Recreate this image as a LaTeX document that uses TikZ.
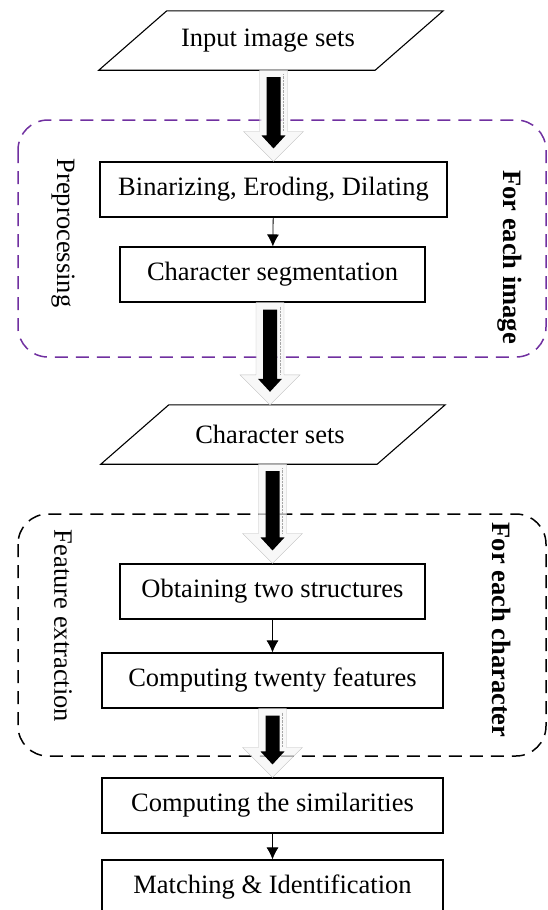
\documentclass[tikz,border=0pt]{standalone}
\usepackage{fontspec}
\setmainfont{Liberation Serif}
\usetikzlibrary{calc,arrows.meta}
\definecolor{loopviolet}{RGB}{112,48,160}

\newcommand{\fatarrow}[2]{%
    \coordinate (top) at (#2.north |- #1.south);
    \filldraw[draw=gray!50,fill=gray!8,fill opacity=0.7] ($(top)+(-14,0)$)--($(#2.north)+(-14,30)$)--($(#2.north)+(-30,30)$)--(#2.north)--($(#2.north)+(30,30)$)--($(#2.north)+(14,30)$)--($(top)+(14,0)$)--cycle;
    \draw[gray!70,densely dotted] ($(top)+(10,-4)$)--($(#2.north)+(10,30)$);
    \fill ($(top)+(-7,-7)$)--($(#2.north)+(-7,26)$)--($(#2.north)+(-12,26)$)--($(#2.north)+(0,13)$)--($(#2.north)+(12,26)$)--($(#2.north)+(7,26)$)--($(top)+(7,-7)$)--cycle;}

\begin{document}
\begin{tikzpicture}[x=1pt,y=1pt,
    txt/.style={font=\fontsize{26.5}{30}\selectfont},
    stepbox/.style={txt,draw,line width=1.1pt,inner sep=0pt,minimum height=55},
    dataset/.style={txt,inner sep=0pt,minimum height=59,minimum width=276},
    side/.style={txt,rotate=-90},
    loopbox/.style={dash pattern=on 13pt off 8pt,line width=1.5pt,rounded corners=30pt}]
    \path[use as bounding box,clip] (0,0) rectangle (547,-910);
    %画虚线框
    \draw[loopbox,loopviolet] (18,-120) rectangle (546,-357);
    \draw[loopbox] (18,-514) rectangle (546,-756);
    \node[side] (prep) at (63,-233) {Preprocessing};
    \node[side,font=\fontsize{26.5}{30}\selectfont\bfseries] (image) at (510,-257) {For each image};
    \node[side] (fext) at (63,-626) {Feature extraction};
    \node[side,font=\fontsize{26.5}{30}\selectfont\bfseries] (char) at (502,-630) {For each character};

    \node[dataset] (input) at (268,-40.5) {Input image sets};
    \node[stepbox,minimum width=347] (bin) at (273.5,-189.5) {Binarizing, Eroding, Dilating};
    \node[stepbox,minimum width=305] (seg) at (272.5,-274.5) {Character segmentation};
    \node[dataset] (chars) at (270,-434.5) {Character sets};
    \node[stepbox,minimum width=305] (struct) at (272.5,-591.5) {Obtaining two structures};
    \node[stepbox,minimum width=341] (feat) at (272.5,-680.5) {Computing twenty features};
    \node[stepbox,minimum width=341] (sim) at (272.5,-805.5) {Computing the similarities};
    \node[stepbox,minimum width=341] (match) at (272.5,-887.5) {Matching \& Identification};
    %平行四边形
    \foreach \d in {input,chars}
        \draw[line width=1.1pt] ($(\d.north west)+(37,0)$)--($(\d.north east)+(37,0)$)--($(\d.south east)+(-31,0)$)--($(\d.south west)+(-31,0)$)--cycle;

    \draw[-{Latex[length=12pt,width=12pt]},thick] (bin)--(seg);
    \draw[-{Latex[length=12pt,width=12pt]},thick] (struct)--(feat);
    \draw[-{Latex[length=12pt,width=12pt]},thick] (sim)--(match);
    %画粗箭头
    \fatarrow{input}{bin}
    \fatarrow{seg}{chars}
    \fatarrow{chars}{struct}
    \fatarrow{feat}{sim}
\end{tikzpicture}
\end{document}
